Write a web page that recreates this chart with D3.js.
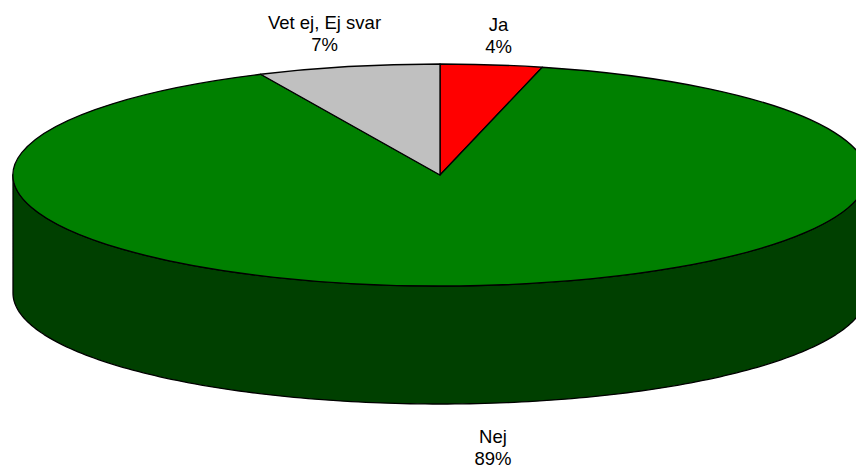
<!DOCTYPE html>
<html><head><meta charset="utf-8">
<script src="https://cdn.jsdelivr.net/npm/d3@7"></script>
<style>html,body{margin:0;padding:0;background:#fff;overflow:hidden}svg{display:block}</style>
</head><body><svg id="c" width="856" height="466"></svg>
<script>
const categories = ["Ja", "Nej", "Vet ej, Ej svar"];
const values = [3.85, 89.25, 6.9];
const percentLabels = ["4%", "89%", "7%"];
const colors = ["#ff0000", "#008000", "#c0c0c0"];
const wallColor = "#004000";
const labelAnchors = [[498.5, 31], [493, 443], [324.5, 28.5]];

const W = 856, H = 466;
const cx = 440, cy = 175, rx = 427, ry = 111, depth = 118;
const svg = d3.select("#c");

// side wall
const wall = d3.path();
wall.moveTo(cx - rx, cy);
wall.lineTo(cx - rx, cy + depth);
const steps = d3.range(0, 181);
const ang = d3.scaleLinear().domain([0, 180]).range([Math.PI, 0]);
steps.forEach(s => wall.lineTo(cx + rx * Math.cos(ang(s)), cy + depth + ry * Math.sin(ang(s))));
wall.lineTo(cx + rx, cy);
steps.slice().reverse().forEach(s => wall.lineTo(cx + rx * Math.cos(ang(s)), cy + ry * Math.sin(ang(s))));
wall.closePath();
svg.append("path").attr("d", wall.toString()).attr("fill", wallColor)
  .attr("stroke", "#000").attr("stroke-width", 1.3).attr("stroke-linejoin", "round");

// top face
const pie = d3.pie().sort(null).value(d => d);
const arc = d3.arc().innerRadius(0).outerRadius(rx);
svg.append("g").attr("transform", `translate(${cx},${cy}) scale(1,${ry / rx})`)
  .selectAll("path").data(pie(values)).join("path")
  .attr("d", arc).attr("fill", (d, i) => colors[i])
  .attr("stroke", "#000").attr("stroke-width", 1.3)
  .attr("stroke-linejoin", "round")
  .attr("vector-effect", "non-scaling-stroke");

// labels
const t = svg.append("g").attr("font-family", "'Liberation Sans', Arial, sans-serif")
  .attr("font-size", 18.5).attr("fill", "#000").attr("text-anchor", "middle");
categories.forEach((c, i) => {
  const [x, y] = labelAnchors[i];
  t.append("text").attr("x", x).attr("y", y).text(c);
  t.append("text").attr("x", x).attr("y", y + 22).text(percentLabels[i]);
});
</script></body></html>
